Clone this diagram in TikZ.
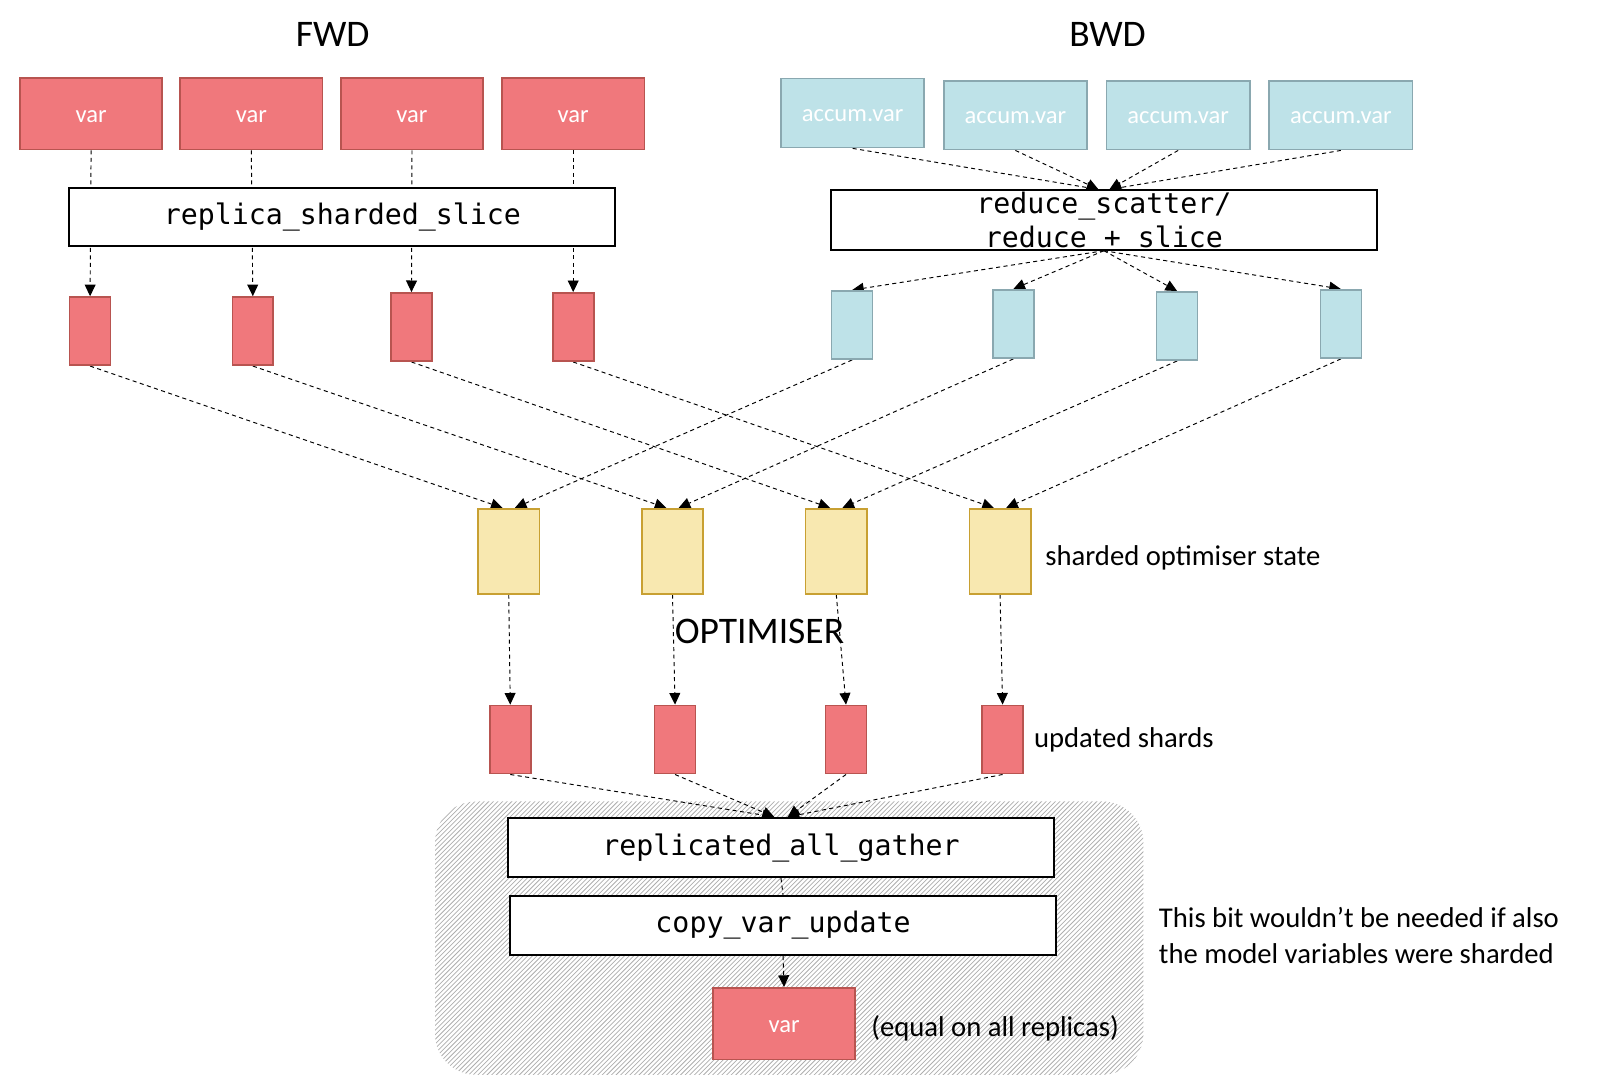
\documentclass[tikz,border=0pt]{standalone}
\usepackage{fontspec}
\setmainfont{Carlito}
\newfontfamily\monofont{DejaVu Sans Mono}
\usetikzlibrary{arrows.meta}
\definecolor{redfill}{HTML}{F0787C}
\definecolor{redline}{HTML}{B85450}
\definecolor{bluefill}{HTML}{BEE2E8}
\definecolor{blueline}{HTML}{8AA8B0}
\definecolor{yelfill}{HTML}{F8E8B0}
\definecolor{yelline}{HTML}{C8A032}
\pgfdeclarelayer{bg}
\pgfdeclarelayer{edges}
\pgfsetlayers{bg,edges,main}
\tikzset{
  redbox/.style={draw=redline, fill=redfill, line width=1.2pt, inner sep=0pt, text=white, font=\fontsize{18}{21}\selectfont},
  bluebox/.style={draw=blueline, fill=bluefill, line width=1.2pt, inner sep=0pt, text=white, font=\fontsize{18}{21}\selectfont},
  yelbox/.style={draw=yelline, fill=yelfill, line width=1.2pt, inner sep=0pt, minimum width=45pt, minimum height=62.25pt},
  varsize/.style={minimum width=104.25pt, minimum height=52.5pt, text height=12.5pt, text depth=0pt},
  accsize/.style={minimum width=105pt, minimum height=50.5pt, text height=12.5pt, text depth=0pt},
  shardsize/.style={minimum width=30pt, minimum height=50pt},
  opbox/.style={draw=black, fill=white, line width=1.4pt, inner sep=0pt, align=center, minimum width=400pt, minimum height=43pt, font=\monofont\fontsize{20.7}{24.75}\selectfont},
  conn/.style={line width=0.7pt, dash pattern=on 3pt off 2.5pt, -{Triangle[length=8.5pt,width=8pt]}},
  plainconn/.style={line width=0.7pt, dash pattern=on 3pt off 2.5pt},
  lbl/.style={font=\fontsize{21}{26.25}\selectfont, inner sep=0pt, anchor=west, align=left},
  ttl/.style={font=\fontsize{27.5}{32}\selectfont, inner sep=0pt},
  hatchline/.style={line width=0.55pt, draw=black!32}
}
\begin{document}
\begin{tikzpicture}[x=0.75pt,y=-0.75pt]
\useasboundingbox (0,0) rectangle (1569,1061);

% hatched region
\begin{pgfonlayer}{bg}
\begin{scope}
\clip[rounded corners=30pt] (425,783) rectangle (1117,1050);
\foreach \i in {150,154.5,...,1120} \draw[hatchline] (\i,1052) -- ++(272,-272);
\end{scope}
\end{pgfonlayer}

% titles
\node[ttl] (fwd) at (325,34) {FWD};
\node[ttl] (bwd) at (1082,34) {BWD};
\node[ttl] (opt) at (742,617) {OPTIMISER};

% top var boxes
\node[redbox, varsize] (v1) at (89,111) {var};
\node[redbox, varsize] (v2) at (245.5,111) {var};
\node[redbox, varsize] (v3) at (402.5,111) {var};
\node[redbox, varsize] (v4) at (560,111) {var};

% accum boxes
\node[bluebox, accsize] (a1) at (833,110.5) {accum.var};
\node[bluebox, accsize] (a2) at (992,112.5) {accum.var};
\node[bluebox, accsize] (a3) at (1151,112.5) {accum.var};
\node[bluebox, accsize] (a4) at (1310,112.5) {accum.var};

% op boxes
\node[opbox, minimum height=42pt] (rss) at (334.5,212) {replica\_sharded\_slice};
\node[opbox, minimum height=43.5pt] (red) at (1078.5,215) {reduce\_scatter/\\reduce + slice};

% red shards
\node[redbox, shardsize] (rs1) at (88,323.5) {};
\node[redbox, shardsize] (rs2) at (247,323.5) {};
\node[redbox, shardsize] (rs3) at (402,319.5) {};
\node[redbox, shardsize] (rs4) at (560,319.5) {};

% blue shards
\node[bluebox, shardsize] (bs1) at (832.5,317.5) {};
\node[bluebox, shardsize] (bs2) at (990,316.5) {};
\node[bluebox, shardsize] (bs3) at (1150,318.5) {};
\node[bluebox, shardsize] (bs4) at (1310,316.5) {};

% optimiser state
\node[yelbox] (y1) at (497,538.5) {};
\node[yelbox] (y2) at (657,538.5) {};
\node[yelbox] (y3) at (817,538.5) {};
\node[yelbox] (y4) at (977,538.5) {};
\node[lbl] (ylbl) at (1021,545) {sharded optimiser state};

% updated shards
\node[redbox, shardsize] (u1) at (498.5,722.5) {};
\node[redbox, shardsize] (u2) at (659.5,722.5) {};
\node[redbox, shardsize] (u3) at (826.5,722.5) {};
\node[redbox, shardsize] (u4) at (979.5,722.5) {};
\node[lbl] (ulbl) at (1010,723) {updated shards};

% gather / copy
\node[opbox, minimum height=43.5pt] (gat) at (763,828) {replicated\_all\_gather};
\node[opbox, minimum height=43.5pt] (cpy) at (765,904) {copy\_var\_update};
\node[redbox, varsize] (bv) at (766,1000) {var};
\node[lbl] (eqlbl) at (851,1005) {(equal on all replicas)};
\node[lbl] (note) at (1132,914) {This bit wouldn’t be needed if also\\the model variables were sharded};

% connectors
\begin{pgfonlayer}{edges}
\foreach \k in {1,2,3,4} \draw[conn] (v\k.south) -- (rs\k.north);
\draw[conn] (a1.south) -- ([xshift=-4pt]red.north);
\draw[conn] (a2.south) -- ([xshift=-4pt]red.north);
\draw[conn] (a3.south) -- ([xshift=4pt]red.north);
\draw[conn] (a4.south) -- ([xshift=4pt]red.north);
\foreach \k in {1,2,3,4} \draw[conn] (red.south) -- (bs\k.north);
\foreach \k in {1,2,3,4} {
  \draw[conn] (rs\k.south) -- ([xshift=-4.5pt]y\k.north);
  \draw[conn] (bs\k.south) -- ([xshift=4.5pt]y\k.north);
  \draw[conn] (y\k.south) -- (u\k.north);
}
\draw[conn] (u1.south) -- ([xshift=-5pt]gat.north);
\draw[conn] (u2.south) -- ([xshift=-5pt]gat.north);
\draw[conn] (u3.south) -- ([xshift=5pt]gat.north);
\draw[conn] (u4.south) -- ([xshift=5pt]gat.north);
\draw[plainconn] (gat.south) -- (cpy.north);
\draw[conn] (cpy.south) -- (bv.north);
\end{pgfonlayer}
\end{tikzpicture}
\end{document}
